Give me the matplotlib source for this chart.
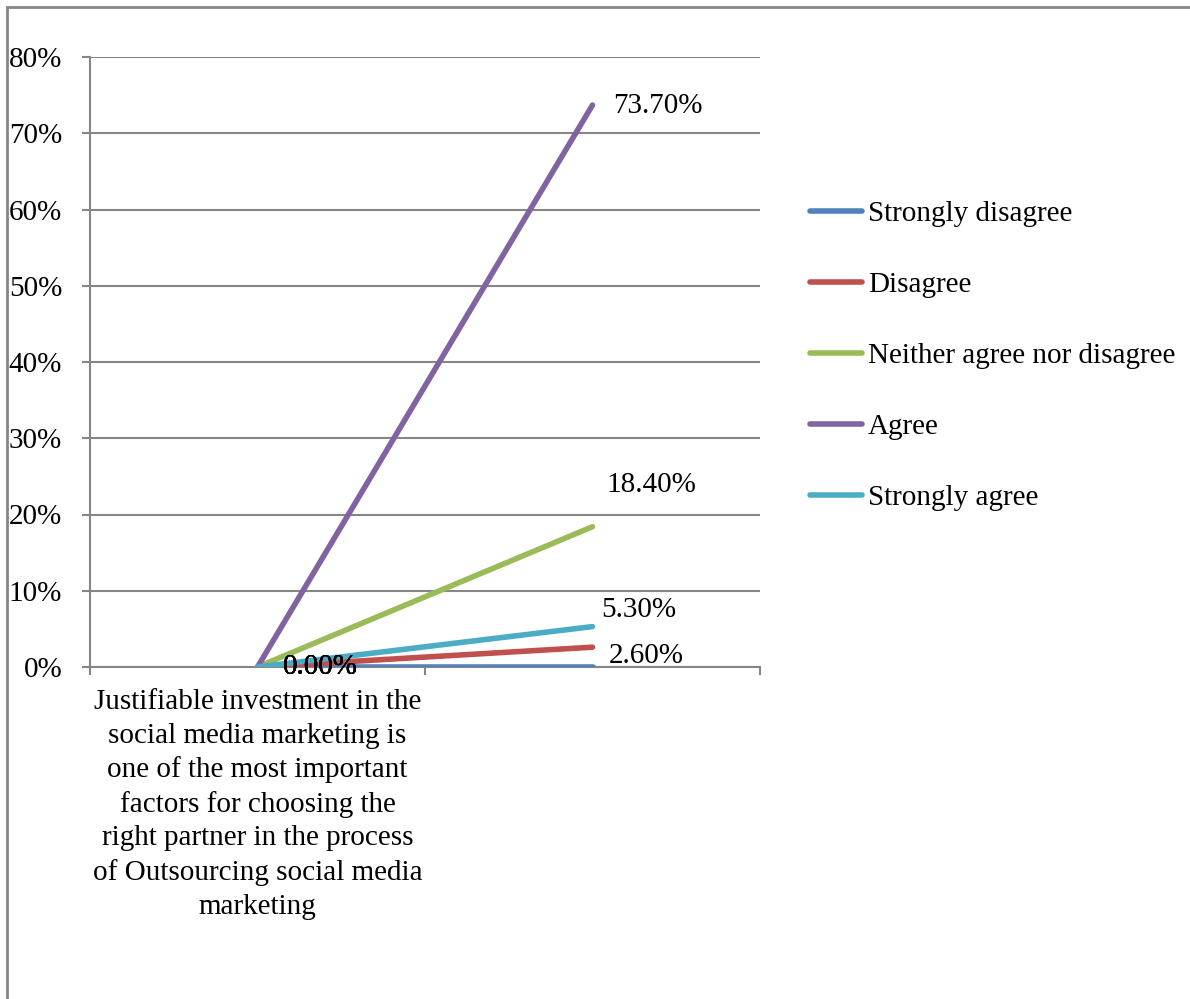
import matplotlib
matplotlib.use("Agg")
import matplotlib.pyplot as plt
from matplotlib.patches import Rectangle
from matplotlib.ticker import FixedLocator, PercentFormatter

plt.rcParams['font.family'] = ['Liberation Serif', 'DejaVu Serif']

categories = [
    "Justifiable investment in the\nsocial media marketing is\none of the most important\n"
    "factors for choosing the\nright partner in the process\nof Outsourcing social media\nmarketing",
    "",
]
series_names = ["Strongly disagree", "Disagree", "Neither agree nor disagree",
                "Agree", "Strongly agree"]
series_values = [
    [0.0, 0.0],
    [0.0, 2.6],
    [0.0, 18.4],
    [0.0, 73.7],
    [0.0, 5.3],
]
colors = ["#4F81BD", "#C0504D", "#9BBB59", "#8064A2", "#4BACC6"]
# label offsets (points) for the end-point value labels
end_offsets = {1: (12, -6), 2: (10, 30), 3: (15, -1), 4: (6, 12)}
y_ticks = [0, 10, 20, 30, 40, 50, 60, 70, 80]

FS = 21
LW = 4.0
grid_col = "#868686"

fig = plt.figure(figsize=(11.9, 9.99), dpi=100)
ax = fig.add_axes([90 / 1190, 1 - 667 / 999, (760 - 90) / 1190, (667 - 57) / 999])

x = list(range(len(categories)))
for i, (name, vals, c) in enumerate(zip(series_names, series_values, colors)):
    ax.plot(x, vals, color=c, lw=LW, solid_capstyle='round', label=name, zorder=3)

# value labels at the starting points (stacked on top of each other)
for vals in series_values:
    ax.annotate(f"{vals[0]:.2f}%", (x[0], vals[0]), xytext=(18, 0),
                textcoords='offset points', ha='left', va='center',
                fontsize=FS, zorder=5)
# value labels at the end points
for i, vals in enumerate(series_values):
    if i in end_offsets:
        dx, dy = end_offsets[i]
        ax.annotate(f"{vals[1]:.2f}%", (x[1], vals[1]), xytext=(dx, dy),
                    textcoords='offset points', ha='left', va='center',
                    fontsize=FS, zorder=5)

ax.set_xlim(-0.5, len(categories) - 0.5)
ax.set_ylim(0, 80)
ax.yaxis.set_major_locator(FixedLocator(y_ticks))
ax.yaxis.set_major_formatter(PercentFormatter(decimals=0))
ax.grid(axis='y', color=grid_col, lw=1.5, zorder=1)
ax.set_axisbelow(True)

ax.set_xticks(x)
ax.set_xticklabels(categories, fontsize=FS, linespacing=1.37)
ax.xaxis.set_minor_locator(FixedLocator([-0.5, 0.5, 1.5]))
ax.tick_params(axis='x', which='major', length=0, pad=16)
ax.tick_params(axis='x', which='minor', length=6, width=1.5, color=grid_col, direction='out')
ax.tick_params(axis='y', length=6, width=1.5, color=grid_col, pad=14, labelsize=FS)

for s in ['top', 'right']:
    ax.spines[s].set_visible(False)
for s in ['left', 'bottom']:
    ax.spines[s].set_color(grid_col)
    ax.spines[s].set_linewidth(1.5)

leg = fig.legend(loc='upper left', bbox_to_anchor=(798 / 1190, 1 - 189 / 999),
                 frameon=False, fontsize=FS, handlelength=1.8, handletextpad=0.2,
                 labelspacing=1.53, borderaxespad=0)
for h in leg.get_lines():
    h.set_linewidth(LW)
    h.set_solid_capstyle('round')

fig.patches.append(Rectangle((7 / 1190, -0.1), 1.2, 1 - 7 / 999 + 0.1,
                             transform=fig.transFigure, fill=False,
                             edgecolor=grid_col, lw=2, zorder=10))

fig.savefig("out.png", dpi=100)
